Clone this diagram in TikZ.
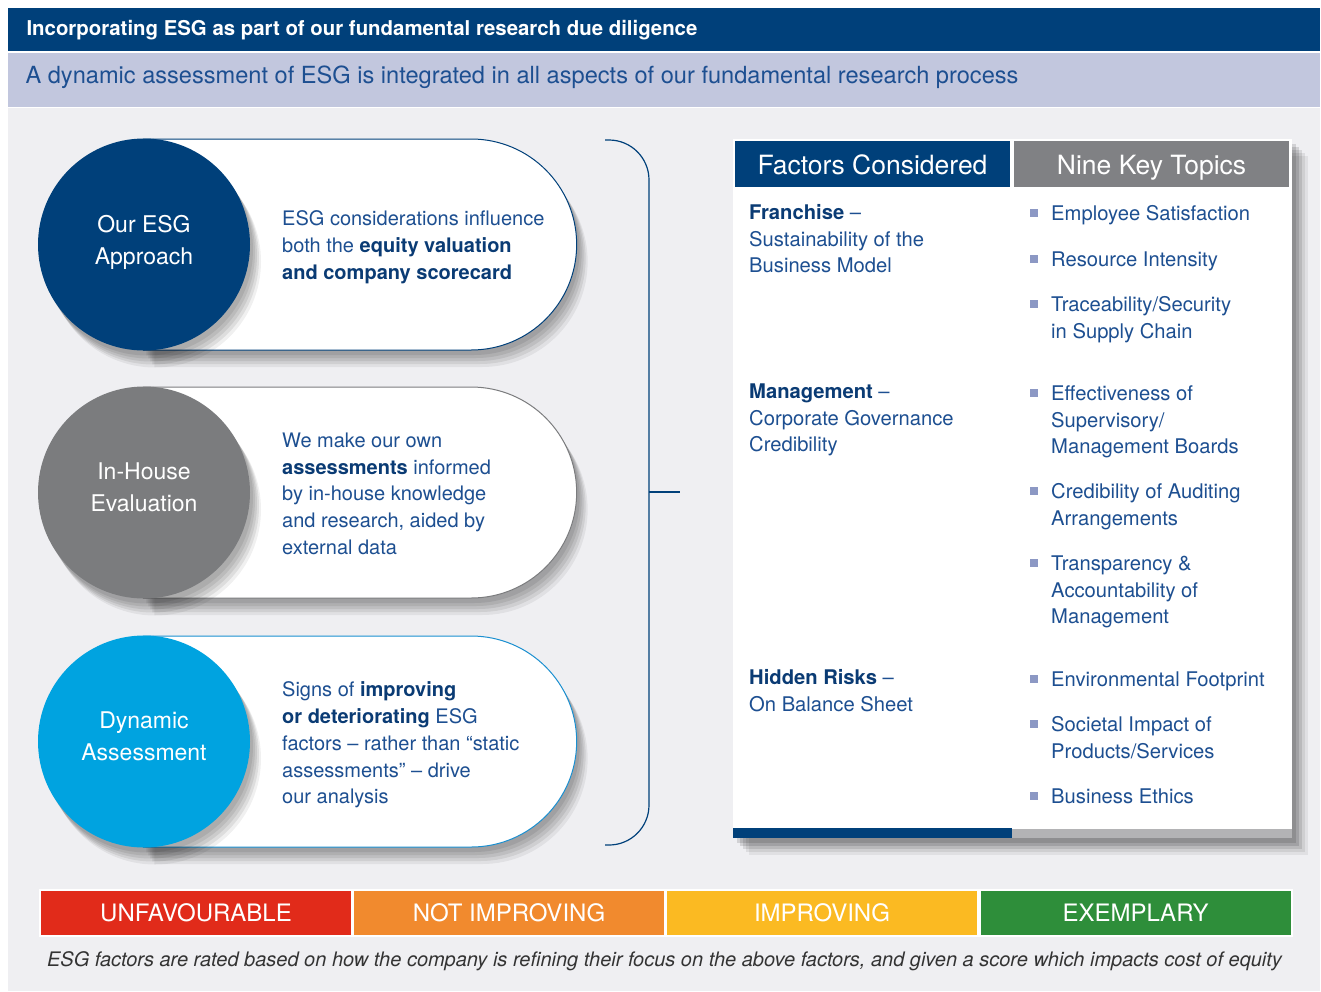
\documentclass[tikz,border=0pt]{standalone}
\usepackage{fontspec}
\setmainfont{TeX Gyre Heros}
\usetikzlibrary{shapes.misc,shadows}

\definecolor{esgnavy}{HTML}{00407A}
\definecolor{esglavender}{HTML}{C2C7DE}
\definecolor{esgpanel}{HTML}{EFEFF2}
\definecolor{esggrey}{HTML}{7B7C7E}
\definecolor{esgheadgrey}{HTML}{808184}
\definecolor{esgcyan}{HTML}{00A3E0}
\definecolor{esgcyanline}{HTML}{1A8FD0}
\definecolor{esgtext}{HTML}{1D4F91}
\definecolor{esgdark}{HTML}{0A3B74}
\definecolor{esgbullet}{HTML}{8C98C4}
\definecolor{ratered}{HTML}{E12B1A}
\definecolor{rateorange}{HTML}{F18A2E}
\definecolor{rateyellow}{HTML}{FBBA22}
\definecolor{rategreen}{HTML}{2E8E3A}

\newcommand{\esgbold}[1]{\textbf{\color{esgdark}#1}}
\newcommand{\keytopic}[3]{%
  \node[topic] (#1) at (1051,#2-7.5) {#3};
  \fill[esgbullet] (1030,#2-4) rectangle (1038,#2+4);}

\tikzset{
  softshadow/.style={
    general shadow={fill=black,opacity=.08,shadow xshift=3pt,shadow yshift=-5pt},
    general shadow={fill=black,opacity=.08,shadow xshift=5pt,shadow yshift=-8pt},
    general shadow={fill=black,opacity=.08,shadow xshift=7pt,shadow yshift=-11pt},
    general shadow={fill=black,opacity=.08,shadow xshift=9pt,shadow yshift=-14pt},
    general shadow={fill=black,opacity=.06,shadow xshift=11pt,shadow yshift=-17pt}},
  boxshadow/.style={
    general shadow={fill=black,opacity=.12,shadow xshift=4pt,shadow yshift=-5pt},
    general shadow={fill=black,opacity=.12,shadow xshift=7pt,shadow yshift=-8pt},
    general shadow={fill=black,opacity=.10,shadow xshift=10pt,shadow yshift=-11pt},
    general shadow={fill=black,opacity=.08,shadow xshift=13pt,shadow yshift=-14pt},
    general shadow={fill=black,opacity=.06,shadow xshift=16pt,shadow yshift=-17pt}},
  pillbox/.style={rounded rectangle, rounded rectangle west arc=none,
    minimum width=440pt, minimum height=211pt, fill=white, line width=1pt, softshadow},
  badge/.style={circle, minimum size=212pt, inner sep=0pt, text=white,
    text depth=10pt, align=center, font=\fontsize{23}{32}\selectfont, softshadow},
  pilltext/.style={anchor=north west, align=left, inner sep=0pt, text=esgtext,
    font=\fontsize{20}{26.8}\selectfont},
  headbox/.style={minimum width=275pt, minimum height=46pt, inner sep=0pt,
    text height=21pt, text depth=0pt, text=white, font=\fontsize{26.5}{28}\selectfont},
  factor/.style={anchor=north west, align=left, inner sep=0pt, text=esgtext,
    font=\fontsize{20.2}{26.6}\selectfont},
  topic/.style={factor},
  ratebox/.style={minimum width=310pt, minimum height=44pt, inner sep=0pt,
    text=white, font=\fontsize{24}{26}\selectfont}
}

\begin{document}
\begin{tikzpicture}[x=1pt,y=-1pt]
\useasboundingbox (0,0) rectangle (1321,991);
% backgrounds
\fill[white] (0,0) rectangle (1321,991);
\fill[esgpanel] (8,108) rectangle (1320,991);
\fill[esgnavy] (8,8) rectangle (1320,51);
\fill[esglavender] (8,53) rectangle (1320,107);
\node[anchor=west, text=white, font=\bfseries\fontsize{20.4}{22}\selectfont] (title) at (23,30)
  {Incorporating ESG as part of our fundamental research due diligence};
\node[anchor=west, text=esgtext, font=\fontsize{23.6}{26}\selectfont] (subtitle) at (22,77)
  {A dynamic assessment of ESG is integrated in all aspects of our fundamental research process};

% the three pills
\node[pillbox, draw=esgnavy] (pillA) at (360,244.5) {};
\node[badge, fill=esgnavy] (approach) at (144,244.5) {Our ESG\\Approach};
\node[pilltext] (approachtxt) at (282,210.5)
  {ESG considerations influence\\both the \esgbold{equity valuation}\\\esgbold{and company scorecard}};

\node[pillbox, draw=esggrey] (pillB) at (360,492.5) {};
\node[badge, fill=esggrey] (inhouse) at (144,492.5) {In-House\\Evaluation};
\node[pilltext] (inhousetxt) at (282,432.5)
  {We make our own\\\esgbold{assessments} informed\\by in-house knowledge\\and research, aided by\\external data};

\node[pillbox, draw=esgcyanline] (pillC) at (360,741.5) {};
\node[badge, fill=esgcyan] (dynamic) at (144,741.5) {Dynamic\\Assessment};
\node[pilltext] (dynamictxt) at (282,681.5)
  {Signs of \esgbold{improving}\\\esgbold{or deteriorating} ESG\\factors -- rather than “static\\assessments” -- drive\\our analysis};

% bracket
\coordinate (brtop) at (605,140);
\coordinate (brbot) at (605,845);
\coordinate (brmid) at (649,492);
\coordinate (brtip) at (680,492);
\draw[esgnavy, line width=1.2pt, rounded corners=40pt] (brtop) -- (649,140) -- (649,845) -- (brbot);
\draw[esgnavy, line width=1.2pt] (brmid) -- (brtip);

% table
\fill[white, boxshadow] (733,139) rectangle (1292,838);
\fill[esgpanel] (1012,828.5) rectangle (1292,838);
\fill[black, opacity=.25] (1012,828.5) rectangle (1292,838);
\fill[esgnavy] (733,828) rectangle (1012,838);
\node[headbox, fill=esgnavy] (factors) at (872.5,164) {Factors Considered};
\node[headbox, fill=esgheadgrey] (topics) at (1151.5,164) {Nine Key Topics};

\node[factor] (franchise) at (749,204.5)
  {\esgbold{Franchise} --\\Sustainability of the\\Business Model};
\node[factor] (management) at (749,383.5)
  {\esgbold{Management} --\\Corporate Governance\\Credibility};
\node[factor] (hidden) at (749,669.5)
  {\esgbold{Hidden Risks} --\\On Balance Sheet};

\keytopic{employee}{213}{Employee Satisfaction}
\keytopic{resource}{259}{Resource Intensity}
\keytopic{supply}{304}{Traceability/Security\\in Supply Chain}
\keytopic{boards}{393}{Effectiveness of\\Supervisory/\\Management Boards}
\keytopic{auditing}{491}{Credibility of Auditing\\Arrangements}
\keytopic{transparency}{563}{Transparency \&\\Accountability of\\Management}
\keytopic{footprint}{679}{Environmental Footprint}
\keytopic{societal}{724}{Societal Impact of\\Products/Services}
\keytopic{ethics}{796}{Business Ethics}

% rating scale
\fill[white] (39,889) rectangle (1293,937);
\node[ratebox, fill=ratered] (unfav) at (196,913) {UNFAVOURABLE};
\node[ratebox, fill=rateorange] (notimp) at (509,913) {NOT IMPROVING};
\node[ratebox, fill=rateyellow] (improv) at (822,913) {IMPROVING};
\node[ratebox, fill=rategreen] (exempl) at (1135.5,913) {EXEMPLARY};
\node[text=black!80, font=\itshape\fontsize{20}{22}\selectfont] (footer) at (664.5,961)
  {ESG factors are rated based on how the company is refining their focus on the above factors, and given a score which impacts cost of equity};
\end{tikzpicture}
\end{document}
